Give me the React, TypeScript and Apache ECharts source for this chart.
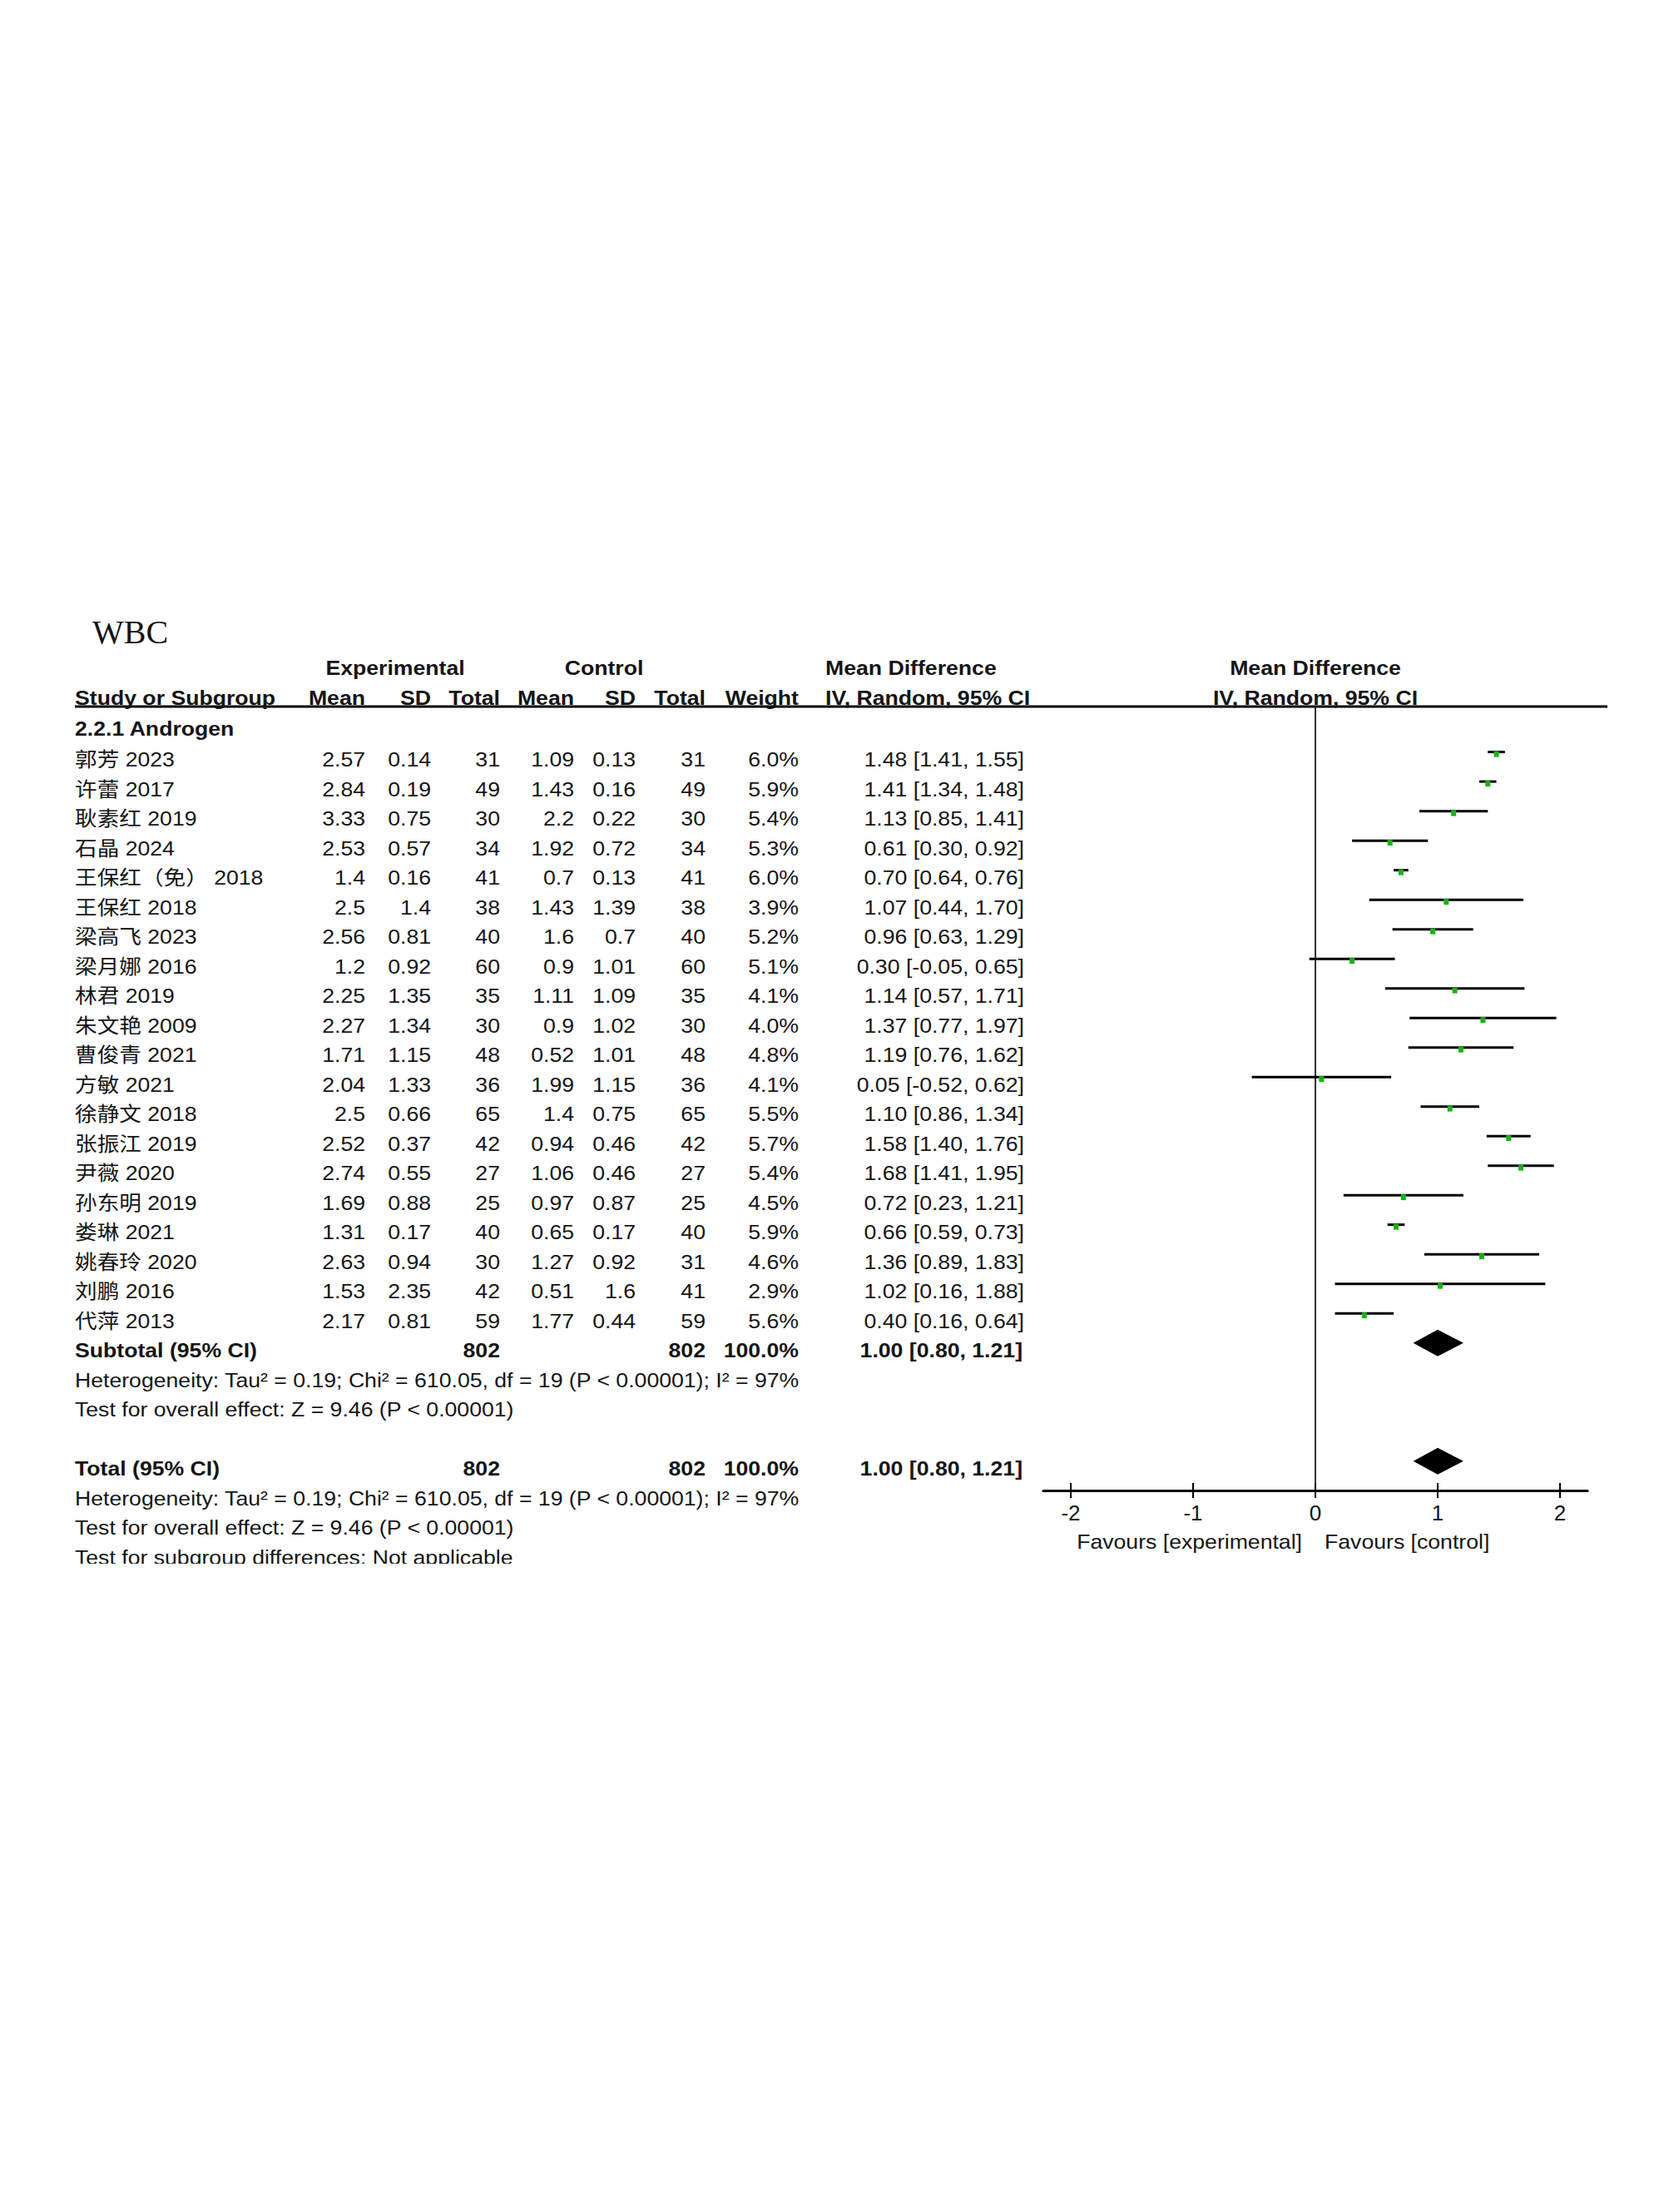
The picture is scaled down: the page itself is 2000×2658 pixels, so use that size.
import React, { useEffect, useRef } from "react";
import * as echarts from "echarts";

// ---------- data ----------
const title = "WBC";
const subgroupLabel = "2.2.1 Androgen";
const studies = [
  "郭芳 2023", "许蕾 2017", "耿素红 2019", "石晶 2024", "王保红（免） 2018",
  "王保红 2018", "梁高飞 2023", "梁月娜 2016", "林君 2019", "朱文艳 2009",
  "曹俊青 2021", "方敏 2021", "徐静文 2018", "张振江 2019", "尹薇 2020",
  "孙东明 2019", "娄琳 2021", "姚春玲 2020", "刘鹏 2016", "代萍 2013",
];
const expMean = [2.57, 2.84, 3.33, 2.53, 1.4, 2.5, 2.56, 1.2, 2.25, 2.27, 1.71, 2.04, 2.5, 2.52, 2.74, 1.69, 1.31, 2.63, 1.53, 2.17];
const expSD = [0.14, 0.19, 0.75, 0.57, 0.16, 1.4, 0.81, 0.92, 1.35, 1.34, 1.15, 1.33, 0.66, 0.37, 0.55, 0.88, 0.17, 0.94, 2.35, 0.81];
const expN = [31, 49, 30, 34, 41, 38, 40, 60, 35, 30, 48, 36, 65, 42, 27, 25, 40, 30, 42, 59];
const ctlMean = [1.09, 1.43, 2.2, 1.92, 0.7, 1.43, 1.6, 0.9, 1.11, 0.9, 0.52, 1.99, 1.4, 0.94, 1.06, 0.97, 0.65, 1.27, 0.51, 1.77];
const ctlSD = [0.13, 0.16, 0.22, 0.72, 0.13, 1.39, 0.7, 1.01, 1.09, 1.02, 1.01, 1.15, 0.75, 0.46, 0.46, 0.87, 0.17, 0.92, 1.6, 0.44];
const ctlN = [31, 49, 30, 34, 41, 38, 40, 60, 35, 30, 48, 36, 65, 42, 27, 25, 40, 31, 41, 59];
const weights = [6.0, 5.9, 5.4, 5.3, 6.0, 3.9, 5.2, 5.1, 4.1, 4.0, 4.8, 4.1, 5.5, 5.7, 5.4, 4.5, 5.9, 4.6, 2.9, 5.6];
const md = [1.48, 1.41, 1.13, 0.61, 0.70, 1.07, 0.96, 0.30, 1.14, 1.37, 1.19, 0.05, 1.10, 1.58, 1.68, 0.72, 0.66, 1.36, 1.02, 0.40];
const ciLo = [1.41, 1.34, 0.85, 0.30, 0.64, 0.44, 0.63, -0.05, 0.57, 0.77, 0.76, -0.52, 0.86, 1.40, 1.41, 0.23, 0.59, 0.89, 0.16, 0.16];
const ciHi = [1.55, 1.48, 1.41, 0.92, 0.76, 1.70, 1.29, 0.65, 1.71, 1.97, 1.62, 0.62, 1.34, 1.76, 1.95, 1.21, 0.73, 1.83, 1.88, 0.64];

const pooledMD = 1.0;
const pooledLo = 0.8;
const pooledHi = 1.21;
const totalExp = 802;
const totalCtl = 802;
const totalWeight = 100.0;

const hetText = "Heterogeneity: Tau² = 0.19; Chi² = 610.05, df = 19 (P < 0.00001); I² = 97%";
const overallText = "Test for overall effect: Z = 9.46 (P < 0.00001)";
const subgroupDiffText = "Test for subgroup differences: Not applicable";

const tickValues = [-2, -1, 0, 1, 2];
const favoursLeft = "Favours [experimental]";
const favoursRight = "Favours [control]";

// ---------- layout ----------
const W = 2000;
const H = 2658;
const FONT = '"Liberation Sans", Arial, "Noto Sans CJK SC", sans-serif';
const SERIF = '"Liberation Serif", "Times New Roman", serif';
const TEXT_COLOR = "#151515";
const SX = 1.11; // horizontal stretch of the source text

const LINE0 = 877; // y of line index 0
const LINE_H = 35.5;
const lineY = (k: number) => LINE0 + k * LINE_H;

const X0 = 1581; // pixel of value 0
const UNIT = 147; // pixels per unit
const XR = 2.225;
const GRID_LEFT = X0 - XR * UNIT;
const GRID_W = 2 * XR * UNIT;
const GRID_TOP = 849;
const GRID_BOTTOM = 1791;
const Y_MIN = (GRID_TOP - LINE0) / LINE_H;
const Y_MAX = (GRID_BOTTOM - LINE0) / LINE_H;
const MARK_OFF = -0.25;

const COL = {
  study: 90,
  expMean: 439,
  expSD: 518,
  expN: 601,
  ctlMean: 690,
  ctlSD: 764,
  ctlN: 848,
  weight: 960,
  ci: 1231,
  mdLeft: 992,
};

const SUB_K = studies.length + 1;
const TOTAL_K = SUB_K + 4;

function txt(text: string, x: number, y: number, align = "left", bold = false, size = 24, family = FONT, sx = SX) {
  return {
    type: "text",
    x,
    y,
    scaleX: sx,
    z: 10,
    style: {
      text,
      fill: TEXT_COLOR,
      fontSize: size,
      fontFamily: family,
      fontWeight: bold ? "bold" : "normal",
      align,
      verticalAlign: "middle",
      textAlign: align,
      textVerticalAlign: "middle",
    },
  };
}

const fmt2 = (v: number) => v.toFixed(2);
const ciStr = (m: number, l: number, h: number) => `${fmt2(m)} [${fmt2(l)}, ${fmt2(h)}]`;

function buildGraphics() {
  const g: any[] = [];
  g.push(txt(title, 111, 759, "left", false, 40, SERIF, 1));
  // header row 1
  const h1 = 802;
  const h2 = 838;
  g.push(txt("Experimental", 475, h1, "center", true));
  g.push(txt("Control", 726, h1, "center", true));
  g.push(txt("Mean Difference", COL.mdLeft, h1, "left", true));
  g.push(txt("Mean Difference", X0, h1, "center", true));
  // header row 2
  g.push(txt("Study or Subgroup", COL.study, h2, "left", true));
  g.push(txt("Mean", COL.expMean, h2, "right", true));
  g.push(txt("SD", COL.expSD, h2, "right", true));
  g.push(txt("Total", COL.expN, h2, "right", true));
  g.push(txt("Mean", COL.ctlMean, h2, "right", true));
  g.push(txt("SD", COL.ctlSD, h2, "right", true));
  g.push(txt("Total", COL.ctlN, h2, "right", true));
  g.push(txt("Weight", COL.weight, h2, "right", true));
  g.push(txt("IV, Random, 95% CI", COL.mdLeft, h2, "left", true));
  g.push(txt("IV, Random, 95% CI", X0, h2, "center", true));
  // header rule
  g.push({
    type: "line",
    z: 5,
    shape: { x1: 90, y1: GRID_TOP, x2: 1932, y2: GRID_TOP },
    style: { stroke: "#000", lineWidth: 3 },
  });
  g.push(txt(subgroupLabel, COL.study, lineY(0) - 2, "left", true));
  studies.forEach((s, i) => {
    const y = lineY(i + 1);
    g.push(txt(s, COL.study, y));
    g.push(txt(String(expMean[i]), COL.expMean, y, "right"));
    g.push(txt(String(expSD[i]), COL.expSD, y, "right"));
    g.push(txt(String(expN[i]), COL.expN, y, "right"));
    g.push(txt(String(ctlMean[i]), COL.ctlMean, y, "right"));
    g.push(txt(String(ctlSD[i]), COL.ctlSD, y, "right"));
    g.push(txt(String(ctlN[i]), COL.ctlN, y, "right"));
    g.push(txt(weights[i].toFixed(1) + "%", COL.weight, y, "right"));
    g.push(txt(ciStr(md[i], ciLo[i], ciHi[i]), COL.ci, y, "right"));
  });
  const summary = (label: string, k: number) => {
    const y = lineY(k);
    g.push(txt(label, COL.study, y, "left", true));
    g.push(txt(String(totalExp), COL.expN, y, "right", true));
    g.push(txt(String(totalCtl), COL.ctlN, y, "right", true));
    g.push(txt(totalWeight.toFixed(1) + "%", COL.weight, y, "right", true));
    g.push(txt(ciStr(pooledMD, pooledLo, pooledHi), COL.ci - 2, y, "right", true));
    g.push(txt(hetText, COL.study, lineY(k + 1)));
    g.push(txt(overallText, COL.study, lineY(k + 2)));
  };
  summary("Subtotal (95% CI)", SUB_K);
  summary("Total (95% CI)", TOTAL_K);
  g.push(txt(subgroupDiffText, COL.study, lineY(TOTAL_K + 3)));
  // crop of the source image cuts the last line
  g.push({
    type: "rect",
    z: 50,
    shape: { x: 60, y: 1879, width: 900, height: 40 },
    style: { fill: "#fff" },
  });
  // favours labels
  g.push(txt(favoursLeft, X0 - 16, 1852, "right"));
  g.push(txt(favoursRight, X0 + 11, 1852, "left"));
  return g;
}

export default function App() {
  const ref = useRef<HTMLDivElement>(null);
  useEffect(() => {
    if (!ref.current) return;
    const chart = echarts.init(ref.current, undefined, { renderer: "svg" });
    const studyData = studies.map((_, i) => [ciLo[i], ciHi[i], md[i], i + 1 + MARK_OFF]);
    const diamondData = [
      [pooledLo, pooledHi, pooledMD, SUB_K + MARK_OFF],
      [pooledLo, pooledHi, pooledMD, TOTAL_K + MARK_OFF],
    ];
    const option: any = {
      animation: false,
      backgroundColor: "#ffffff",
      grid: { left: GRID_LEFT, top: GRID_TOP, width: GRID_W, height: GRID_BOTTOM - GRID_TOP, containLabel: false },
      xAxis: [
        {
          type: "value",
          min: -XR,
          max: XR,
          position: "bottom",
          axisLine: { show: true, onZero: false, lineStyle: { color: "#000", width: 3 } },
          axisTick: { show: true, inside: false, length: 9, customValues: tickValues, lineStyle: { color: "#000", width: 2 } },
          axisLabel: { show: true, customValues: tickValues, margin: 14, fontSize: 26, color: TEXT_COLOR, fontFamily: FONT },
          splitLine: { show: false },
        },
        {
          type: "value",
          min: -XR,
          max: XR,
          position: "bottom",
          axisLine: { show: false, onZero: false },
          axisTick: { show: true, inside: true, length: 9, customValues: tickValues, lineStyle: { color: "#000", width: 2 } },
          axisLabel: { show: false },
          splitLine: { show: false },
        },
      ],
      yAxis: {
        type: "value",
        inverse: true,
        min: Y_MIN,
        max: Y_MAX,
        axisLine: { show: true, onZero: true, onZeroAxisIndex: 0, lineStyle: { color: "#333", width: 2 } },
        axisTick: { show: false },
        axisLabel: { show: false },
        splitLine: { show: false },
      },
      series: [
        {
          type: "custom",
          clip: false,
          xAxisIndex: 0,
          encode: { x: [0, 1, 2], y: 3 },
          data: studyData,
          renderItem: (_p: any, api: any) => {
            const y = api.value(3);
            const a = api.coord([api.value(0), y]);
            const b = api.coord([api.value(1), y]);
            const m = api.coord([api.value(2), y]);
            return {
              type: "group",
              children: [
                { type: "line", shape: { x1: a[0], y1: a[1], x2: b[0], y2: b[1] }, style: { stroke: "#000", lineWidth: 3 } },
                { type: "rect", shape: { x: m[0] - 3, y: m[1] - 1, width: 6, height: 7 }, style: { fill: "#16b416" } },
              ],
            };
          },
        },
        {
          type: "custom",
          clip: false,
          xAxisIndex: 0,
          encode: { x: [0, 1, 2], y: 3 },
          data: diamondData,
          renderItem: (_p: any, api: any) => {
            const y = api.value(3);
            const a = api.coord([api.value(0), y]);
            const b = api.coord([api.value(1), y]);
            const m = api.coord([api.value(2), y]);
            const hh = 16;
            return {
              type: "polygon",
              shape: { points: [[a[0], a[1]], [m[0], m[1] - hh], [b[0], b[1]], [m[0], m[1] + hh]] },
              style: { fill: "#000" },
            };
          },
        },
      ],
      graphic: buildGraphics(),
    };
    chart.setOption(option);
    return () => chart.dispose();
  }, []);
  return <div ref={ref} style={{ position: "absolute", left: 0, top: 0, width: W, height: H, background: "#fff" }} />;
}
